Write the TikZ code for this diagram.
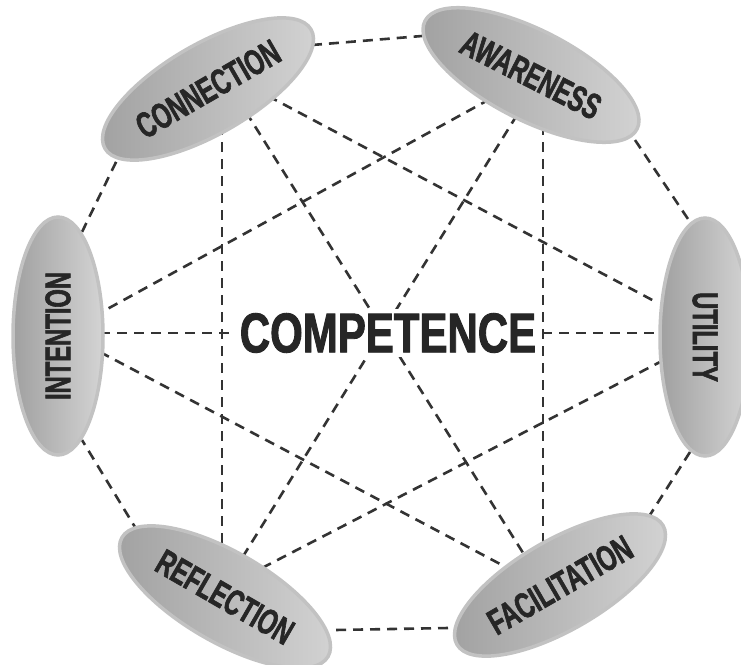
\documentclass[tikz,border=0pt]{standalone}
\usepackage{fontspec}
\newfontfamily\petalfont[FakeStretch=0.66, FakeBold=1.6]{Liberation Sans Bold}
\newfontfamily\titlefont[FakeStretch=0.75, FakeBold=1.6]{Liberation Sans Bold}
\usetikzlibrary{shapes.geometric,backgrounds}
\definecolor{petaldark}{HTML}{A0A0A0}
\definecolor{petallight}{HTML}{D4D4D4}
\definecolor{petalrim}{HTML}{C2C2C2}
\definecolor{ink}{HTML}{262626}
\definecolor{dashcol}{HTML}{333333}
\begin{document}
\begin{tikzpicture}[x=1pt,y=-1pt,
  petal/.style={ellipse, minimum width=238pt, minimum height=90pt, inner sep=0pt,
    draw=petalrim, line width=3.5pt, left color=petaldark, right color=petallight,
    text=ink, font=\petalfont\fontsize{36}{36}\selectfont},
  link/.style={draw=dashcol, line width=2.6pt, dash pattern=on 10pt off 7pt},
  title/.style={fill=white, inner sep=4pt, text=ink, font=\titlefont\fontsize{56}{56}\selectfont}]
\useasboundingbox (0,0) rectangle (741,664);
% petals
\node[petal, rotate=30] (conn) at (208,89) {CONNECTION};
\node[petal, rotate=-27] (awar) at (531,75) {AWARENESS};
\node[petal, rotate=-90] (util) at (705,337) {UTILITY};
\node[petal, rotate=90] (inte) at (58,336) {INTENTION};
\node[petal, rotate=-30] (refl) at (225,597) {REFLECTION};
\node[petal, rotate=30] (faci) at (560,585) {FACILITATION};
\node[title] (comp) at (388,333) {COMPETENCE};
% connector ends
\coordinate (ca) at (312,45);  \coordinate (ac) at (422,36);
\coordinate (au) at (635,140); \coordinate (ua) at (690,222);
\coordinate (uf) at (690,452); \coordinate (fu) at (648,518);
\coordinate (fr) at (448,628); \coordinate (rf) at (335,630);
\coordinate (ri) at (138,532); \coordinate (ir) at (82,440);
\coordinate (ic) at (82,232);  \coordinate (ci) at (118,158);
\coordinate (cr) at (222,125); \coordinate (rc) at (222,545);
\coordinate (af) at (543,125); \coordinate (fa) at (543,545);
\coordinate (iu) at (100,333); \coordinate (ui) at (662,333);
\coordinate (cu) at (268,96);  \coordinate (uc) at (656,302);
\coordinate (cf) at (246,112); \coordinate (fc) at (525,556);
\coordinate (ai) at (490,99);  \coordinate (ia) at (100,313);
\coordinate (ar) at (517,115); \coordinate (ra) at (242,558);
\coordinate (if) at (100,352); \coordinate (fi) at (502,565);
\coordinate (ru) at (262,568); \coordinate (ur) at (660,362);
\begin{scope}[on background layer]
\fill[white] (0,0) rectangle (741,664);
\draw[link] (ca) -- (ac);
\draw[link] (au) -- (ua);
\draw[link] (uf) -- (fu);
\draw[link] (fr) -- (rf);
\draw[link] (ri) -- (ir);
\draw[link] (ic) -- (ci);
\draw[link] (cr) -- (rc);
\draw[link] (af) -- (fa);
\draw[link] (iu) -- (ui);
\draw[link] (cu) -- (uc);
\draw[link] (cf) -- (fc);
\draw[link] (ai) -- (ia);
\draw[link] (ar) -- (ra);
\draw[link] (if) -- (fi);
\draw[link] (ru) -- (ur);
\end{scope}
\end{tikzpicture}
\end{document}
